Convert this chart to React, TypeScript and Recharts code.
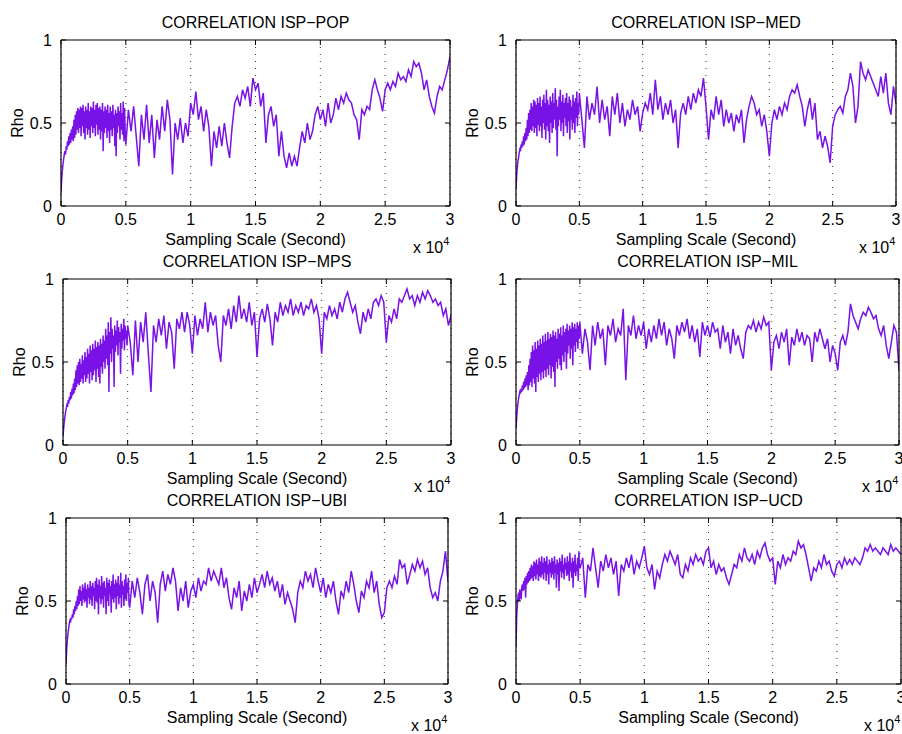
import React from "react";
import { LineChart, Line, XAxis, YAxis, CartesianGrid } from "recharts";

// the first 0.5 (x10^4 s) is sampled every 0.005, the rest every 0.02
const HEAD_STEP = 0.005;
const TAIL_START = 0.5;
const TAIL_STEP = 0.02;
const xTicks = [0, 0.5, 1, 1.5, 2, 2.5, 3];
const yTicks = [0, 0.5, 1];

const popHead = [
  0.08, 0.16, 0.21, 0.25, 0.28, 0.31, 0.33, 0.31, 0.36, 0.34,
  0.39, 0.36, 0.42, 0.37, 0.44, 0.38, 0.46, 0.4, 0.48, 0.39,
  0.52, 0.41, 0.55, 0.43, 0.57, 0.46, 0.59, 0.44, 0.58, 0.47,
  0.6, 0.42, 0.59, 0.48, 0.61, 0.44, 0.57, 0.4, 0.6, 0.47,
  0.58, 0.43, 0.62, 0.46, 0.57, 0.41, 0.6, 0.48, 0.59, 0.44,
  0.63, 0.47, 0.58, 0.42, 0.61, 0.49, 0.62, 0.43, 0.59, 0.46,
  0.6, 0.4, 0.58, 0.45, 0.62, 0.33, 0.57, 0.44, 0.6, 0.47,
  0.58, 0.41, 0.61, 0.45, 0.56, 0.38, 0.6, 0.46, 0.57, 0.42,
  0.61, 0.47, 0.55, 0.36, 0.58, 0.3, 0.56, 0.44, 0.6, 0.48,
  0.57, 0.4, 0.62, 0.46, 0.56, 0.43, 0.63, 0.39, 0.59, 0.45,
];
const popTail = [
  0.37, 0.58, 0.45, 0.6, 0.42,
  0.24, 0.55, 0.4, 0.61, 0.38, 0.55, 0.29, 0.52, 0.4, 0.6,
  0.45, 0.64, 0.52, 0.19, 0.5, 0.4, 0.53, 0.38, 0.5, 0.42,
  0.62, 0.55, 0.69, 0.52, 0.6, 0.45, 0.58, 0.48, 0.24, 0.45,
  0.35, 0.48, 0.36, 0.5, 0.38, 0.29, 0.48, 0.62, 0.66, 0.6,
  0.7, 0.65, 0.72, 0.6, 0.77, 0.7, 0.74, 0.6, 0.68, 0.38,
  0.55, 0.6, 0.48, 0.55, 0.3, 0.45, 0.3, 0.23, 0.32, 0.24,
  0.3, 0.24, 0.35, 0.45, 0.38, 0.5, 0.4, 0.45, 0.55, 0.6,
  0.52, 0.58, 0.48, 0.62, 0.5, 0.55, 0.65, 0.58, 0.66, 0.62,
  0.68, 0.64, 0.62, 0.55, 0.52, 0.4, 0.58, 0.55, 0.6, 0.58,
  0.7, 0.76, 0.7, 0.65, 0.57, 0.7, 0.74, 0.7, 0.75, 0.72,
  0.8, 0.76, 0.78, 0.75, 0.82, 0.78, 0.87, 0.84, 0.86, 0.8,
  0.7, 0.76, 0.66, 0.6, 0.56, 0.66, 0.72, 0.7, 0.76, 0.82,
  0.9,
];

const medHead = [
  0.1, 0.18, 0.23, 0.27, 0.29, 0.32, 0.34, 0.33, 0.37, 0.35,
  0.39, 0.36, 0.42, 0.37, 0.44, 0.39, 0.47, 0.4, 0.52, 0.42,
  0.56, 0.44, 0.58, 0.46, 0.62, 0.45, 0.6, 0.48, 0.64, 0.44,
  0.63, 0.47, 0.61, 0.42, 0.65, 0.49, 0.62, 0.45, 0.66, 0.48,
  0.6, 0.41, 0.64, 0.5, 0.67, 0.46, 0.62, 0.4, 0.7, 0.48,
  0.64, 0.45, 0.61, 0.38, 0.66, 0.5, 0.63, 0.44, 0.68, 0.47,
  0.62, 0.52, 0.71, 0.46, 0.64, 0.3, 0.6, 0.48, 0.66, 0.52,
  0.7, 0.45, 0.63, 0.5, 0.67, 0.42, 0.62, 0.53, 0.65, 0.48,
  0.68, 0.44, 0.62, 0.51, 0.66, 0.4, 0.64, 0.52, 0.6, 0.46,
  0.67, 0.5, 0.63, 0.44, 0.65, 0.53, 0.69, 0.48, 0.62, 0.55,
];
const medTail = [
  0.68, 0.52, 0.35, 0.66, 0.52,
  0.62, 0.55, 0.72, 0.5, 0.64, 0.52, 0.6, 0.42, 0.66, 0.55,
  0.68, 0.5, 0.62, 0.48, 0.58, 0.52, 0.64, 0.55, 0.6, 0.45,
  0.56, 0.62, 0.58, 0.68, 0.55, 0.76, 0.58, 0.66, 0.52, 0.62,
  0.55, 0.64, 0.5, 0.58, 0.35, 0.56, 0.62, 0.55, 0.66, 0.58,
  0.68, 0.62, 0.7, 0.66, 0.77, 0.6, 0.4, 0.58, 0.52, 0.66,
  0.55, 0.64, 0.48, 0.58, 0.5, 0.56, 0.45, 0.55, 0.5, 0.58,
  0.38, 0.52, 0.6, 0.66, 0.62, 0.55, 0.58, 0.48, 0.55, 0.45,
  0.3, 0.5, 0.58, 0.52, 0.6, 0.55, 0.62, 0.58, 0.66, 0.7,
  0.68, 0.73, 0.66, 0.6, 0.48, 0.58, 0.65, 0.52, 0.62, 0.4,
  0.45, 0.35, 0.42, 0.36, 0.26, 0.48, 0.55, 0.58, 0.6, 0.56,
  0.66, 0.7, 0.8, 0.72, 0.5, 0.6, 0.87, 0.8, 0.76, 0.82,
  0.78, 0.74, 0.7, 0.66, 0.78, 0.68, 0.8, 0.62, 0.55, 0.72,
  0.62,
];

const mpsHead = [
  0.05, 0.1, 0.14, 0.17, 0.2, 0.22, 0.24, 0.23, 0.27, 0.25,
  0.29, 0.27, 0.32, 0.28, 0.34, 0.3, 0.37, 0.31, 0.4, 0.33,
  0.45, 0.35, 0.48, 0.37, 0.5, 0.36, 0.52, 0.38, 0.49, 0.4,
  0.54, 0.37, 0.51, 0.42, 0.56, 0.38, 0.53, 0.4, 0.58, 0.43,
  0.55, 0.37, 0.6, 0.44, 0.57, 0.39, 0.61, 0.42, 0.58, 0.45,
  0.63, 0.38, 0.59, 0.46, 0.62, 0.41, 0.6, 0.37, 0.64, 0.47,
  0.61, 0.43, 0.66, 0.5, 0.63, 0.46, 0.7, 0.52, 0.66, 0.48,
  0.74, 0.32, 0.68, 0.55, 0.77, 0.5, 0.7, 0.58, 0.66, 0.35,
  0.72, 0.56, 0.69, 0.6, 0.75, 0.54, 0.71, 0.62, 0.68, 0.43,
  0.73, 0.58, 0.7, 0.63, 0.76, 0.57, 0.72, 0.64, 0.69, 0.6,
];
const mpsTail = [
  0.72, 0.62, 0.42, 0.75, 0.5,
  0.74, 0.62, 0.8, 0.55, 0.32, 0.72, 0.62, 0.76, 0.66, 0.78,
  0.58, 0.74, 0.68, 0.46, 0.76, 0.7, 0.8, 0.68, 0.8, 0.72,
  0.55, 0.78, 0.66, 0.76, 0.7, 0.86, 0.68, 0.8, 0.72, 0.78,
  0.6, 0.5, 0.78, 0.72, 0.82, 0.7, 0.84, 0.74, 0.9, 0.76,
  0.82, 0.74, 0.86, 0.72, 0.8, 0.53, 0.76, 0.82, 0.74, 0.85,
  0.76, 0.6, 0.8, 0.74, 0.86, 0.78, 0.84, 0.8, 0.88, 0.78,
  0.84, 0.8, 0.86, 0.78, 0.84, 0.82, 0.88, 0.8, 0.84, 0.76,
  0.55, 0.8, 0.76, 0.84, 0.78, 0.82, 0.76, 0.86, 0.8, 0.88,
  0.92, 0.86, 0.8, 0.84, 0.74, 0.67, 0.8, 0.74, 0.82, 0.76,
  0.86, 0.88, 0.84, 0.9, 0.86, 0.62, 0.78, 0.74, 0.82, 0.76,
  0.88, 0.86, 0.9, 0.94, 0.88, 0.9, 0.84, 0.9, 0.86, 0.92,
  0.88, 0.93, 0.9, 0.86, 0.88, 0.84, 0.86, 0.78, 0.82, 0.72,
  0.78,
];

const milHead = [
  0.1, 0.16, 0.21, 0.25, 0.28, 0.3, 0.32, 0.31, 0.34, 0.32,
  0.36, 0.33, 0.38, 0.34, 0.4, 0.35, 0.42, 0.36, 0.44, 0.33,
  0.48, 0.36, 0.52, 0.38, 0.56, 0.35, 0.6, 0.4, 0.57, 0.37,
  0.62, 0.32, 0.58, 0.41, 0.63, 0.38, 0.6, 0.43, 0.64, 0.39,
  0.61, 0.44, 0.66, 0.4, 0.62, 0.45, 0.67, 0.41, 0.63, 0.46,
  0.68, 0.42, 0.64, 0.48, 0.67, 0.4, 0.65, 0.47, 0.69, 0.44,
  0.66, 0.35, 0.68, 0.5, 0.64, 0.46, 0.7, 0.52, 0.67, 0.48,
  0.71, 0.45, 0.66, 0.54, 0.72, 0.5, 0.68, 0.56, 0.7, 0.46,
  0.73, 0.55, 0.69, 0.6, 0.72, 0.52, 0.7, 0.58, 0.74, 0.48,
  0.71, 0.6, 0.73, 0.56, 0.7, 0.62, 0.74, 0.58, 0.72, 0.64,
];
const milTail = [
  0.74, 0.55, 0.7, 0.62, 0.45,
  0.72, 0.6, 0.74, 0.64, 0.7, 0.48, 0.72, 0.66, 0.76, 0.62,
  0.7, 0.66, 0.82, 0.39, 0.72, 0.66, 0.78, 0.64, 0.72, 0.66,
  0.74, 0.58, 0.7, 0.62, 0.72, 0.64, 0.76, 0.66, 0.74, 0.6,
  0.7, 0.64, 0.52, 0.72, 0.66, 0.74, 0.68, 0.76, 0.64, 0.72,
  0.62, 0.7, 0.53, 0.74, 0.66, 0.72, 0.65, 0.74, 0.68, 0.7,
  0.58, 0.72, 0.62, 0.68, 0.55, 0.7, 0.6, 0.66, 0.58, 0.52,
  0.68, 0.72, 0.7, 0.75, 0.68, 0.74, 0.7, 0.77, 0.72, 0.74,
  0.45, 0.62, 0.66, 0.58, 0.68, 0.62, 0.7, 0.48, 0.65, 0.6,
  0.7, 0.62, 0.68, 0.6, 0.66, 0.64, 0.5, 0.68, 0.62, 0.7,
  0.64, 0.58, 0.64, 0.5, 0.6, 0.55, 0.45, 0.62, 0.66, 0.6,
  0.68, 0.85, 0.78, 0.74, 0.7, 0.76, 0.8, 0.78, 0.83, 0.8,
  0.76, 0.78, 0.7, 0.66, 0.72, 0.6, 0.52, 0.62, 0.72, 0.68,
  0.45,
];

const ubiHead = [
  0.12, 0.2, 0.26, 0.3, 0.33, 0.36, 0.38, 0.37, 0.4, 0.39,
  0.42, 0.4, 0.45, 0.42, 0.47, 0.44, 0.5, 0.45, 0.53, 0.47,
  0.57, 0.48, 0.59, 0.5, 0.56, 0.47, 0.6, 0.51, 0.58, 0.49,
  0.61, 0.5, 0.57, 0.46, 0.6, 0.52, 0.58, 0.48, 0.62, 0.51,
  0.59, 0.47, 0.61, 0.53, 0.58, 0.45, 0.62, 0.5, 0.64, 0.49,
  0.6, 0.42, 0.63, 0.52, 0.59, 0.48, 0.65, 0.51, 0.61, 0.46,
  0.62, 0.53, 0.58, 0.42, 0.64, 0.5, 0.61, 0.47, 0.63, 0.54,
  0.59, 0.43, 0.62, 0.51, 0.66, 0.49, 0.6, 0.52, 0.63, 0.45,
  0.61, 0.53, 0.65, 0.48, 0.6, 0.52, 0.67, 0.46, 0.62, 0.54,
  0.59, 0.47, 0.63, 0.51, 0.66, 0.5, 0.61, 0.55, 0.64, 0.48,
];
const ubiTail = [
  0.46, 0.62, 0.52, 0.64, 0.55,
  0.42, 0.6, 0.66, 0.5, 0.62, 0.55, 0.37, 0.6, 0.68, 0.56,
  0.66, 0.6, 0.7, 0.62, 0.44, 0.58, 0.5, 0.62, 0.46, 0.56,
  0.6, 0.52, 0.64, 0.56, 0.62, 0.6, 0.7, 0.62, 0.68, 0.64,
  0.6, 0.7, 0.58, 0.64, 0.52, 0.45, 0.58, 0.52, 0.62, 0.44,
  0.56, 0.5, 0.6, 0.52, 0.64, 0.55, 0.6, 0.66, 0.58, 0.68,
  0.6, 0.64, 0.56, 0.62, 0.52, 0.6, 0.48, 0.55, 0.5, 0.45,
  0.37, 0.55, 0.62, 0.58, 0.68, 0.62, 0.66, 0.58, 0.7, 0.62,
  0.55, 0.64, 0.52, 0.6, 0.55, 0.62, 0.5, 0.42, 0.56, 0.52,
  0.62, 0.55, 0.68, 0.6, 0.5, 0.43, 0.56, 0.52, 0.62, 0.58,
  0.68, 0.55, 0.62, 0.48, 0.4, 0.43, 0.58, 0.62, 0.58, 0.65,
  0.6, 0.75, 0.7, 0.72, 0.6, 0.66, 0.72, 0.68, 0.75, 0.7,
  0.74, 0.66, 0.7, 0.58, 0.52, 0.55, 0.5, 0.62, 0.68, 0.8,
  0.62,
];

const ucdHead = [
  0.22, 0.4, 0.47, 0.52, 0.55, 0.5, 0.57, 0.54, 0.51, 0.58,
  0.6, 0.56, 0.62, 0.57, 0.64, 0.52, 0.65, 0.6, 0.67, 0.61,
  0.68, 0.62, 0.7, 0.63, 0.72, 0.64, 0.71, 0.62, 0.74, 0.65,
  0.73, 0.63, 0.75, 0.66, 0.72, 0.62, 0.76, 0.65, 0.74, 0.64,
  0.77, 0.66, 0.73, 0.63, 0.76, 0.67, 0.74, 0.62, 0.77, 0.66,
  0.72, 0.6, 0.75, 0.67, 0.73, 0.64, 0.76, 0.66, 0.74, 0.63,
  0.77, 0.67, 0.72, 0.58, 0.75, 0.66, 0.73, 0.56, 0.76, 0.68,
  0.74, 0.64, 0.78, 0.67, 0.72, 0.63, 0.76, 0.69, 0.73, 0.65,
  0.77, 0.66, 0.74, 0.62, 0.79, 0.68, 0.73, 0.64, 0.76, 0.58,
  0.74, 0.67, 0.78, 0.65, 0.72, 0.68, 0.76, 0.62, 0.8, 0.7,
];
const ucdTail = [
  0.7, 0.76, 0.52, 0.72, 0.68,
  0.82, 0.7, 0.58, 0.74, 0.68, 0.78, 0.7, 0.76, 0.66, 0.74,
  0.53, 0.72, 0.68, 0.76, 0.7, 0.78, 0.66, 0.74, 0.7, 0.76,
  0.83, 0.7, 0.66, 0.72, 0.57, 0.68, 0.64, 0.72, 0.78, 0.74,
  0.8, 0.76, 0.72, 0.78, 0.66, 0.64, 0.72, 0.68, 0.76, 0.72,
  0.78, 0.74, 0.76, 0.72, 0.8, 0.82, 0.7, 0.74, 0.66, 0.72,
  0.68, 0.7, 0.64, 0.6, 0.66, 0.72, 0.7, 0.78, 0.74, 0.82,
  0.76, 0.74, 0.78, 0.72, 0.8, 0.76, 0.82, 0.85, 0.78, 0.74,
  0.76, 0.6, 0.74, 0.7, 0.78, 0.72, 0.76, 0.74, 0.8, 0.78,
  0.86, 0.82, 0.84, 0.78, 0.7, 0.62, 0.7, 0.68, 0.74, 0.7,
  0.78, 0.72, 0.74, 0.68, 0.65, 0.72, 0.74, 0.7, 0.76, 0.72,
  0.75, 0.72, 0.76, 0.74, 0.72, 0.76, 0.82, 0.8, 0.84, 0.8,
  0.82, 0.8, 0.78, 0.82, 0.8, 0.78, 0.84, 0.8, 0.82, 0.8,
  0.78,
];

const PAGE_W = 902;
const PAGE_H = 734;
const FONT = "'Liberation Sans', Arial, Helvetica, sans-serif";
const PURPLE = "#7812e6";

type Box = { left: number; right: number; top: number; bottom: number };
type Panel = { title: string; head: number[]; tail: number[]; box: Box };

const panels: Panel[] = [
  { title: "CORRELATION ISP\u2212POP", head: popHead, tail: popTail, box: { left: 61, right: 450, top: 40, bottom: 206 } },
  { title: "CORRELATION ISP\u2212MED", head: medHead, tail: medTail, box: { left: 516, right: 896, top: 40, bottom: 206 } },
  { title: "CORRELATION ISP\u2212MPS", head: mpsHead, tail: mpsTail, box: { left: 63, right: 451, top: 279, bottom: 445 } },
  { title: "CORRELATION ISP\u2212MIL", head: milHead, tail: milTail, box: { left: 516, right: 899, top: 279, bottom: 445 } },
  { title: "CORRELATION ISP\u2212UBI", head: ubiHead, tail: ubiTail, box: { left: 66, right: 448, top: 518, bottom: 684 } },
  { title: "CORRELATION ISP\u2212UCD", head: ucdHead, tail: ucdTail, box: { left: 516, right: 901, top: 518, bottom: 684 } },
];

const TICK = 5;

// matlab style: ticks point into the box, labels sit outside
const BottomTick = (props: any) => {
  const { x, y, payload } = props;
  return (
    <g>
      <line x1={x} y1={y} x2={x} y2={y - TICK} stroke="#000" />
      <text x={x} y={y + 19} textAnchor="middle" fontSize={16} fontFamily={FONT} fill="#000">
        {String(payload.value)}
      </text>
    </g>
  );
};

const TopTick = (props: any) => {
  const { x, y } = props;
  return <line x1={x} y1={y} x2={x} y2={y + TICK} stroke="#000" />;
};

const LeftTick = (props: any) => {
  const { x, y, payload } = props;
  return (
    <g>
      <line x1={x} y1={y} x2={x + TICK} y2={y} stroke="#000" />
      <text x={x - 9} y={y + 6} textAnchor="end" fontSize={16} fontFamily={FONT} fill="#000">
        {String(payload.value)}
      </text>
    </g>
  );
};

const RightTick = (props: any) => {
  const { x, y } = props;
  return <line x1={x} y1={y} x2={x - TICK} y2={y} stroke="#000" />;
};

const axisLine = { stroke: "#000", strokeWidth: 1.2 };

function CorrelationPanel({ head, tail, box }: Panel) {
  const data = [
    ...head.map((rho, i) => ({ x: i * HEAD_STEP, rho })),
    ...tail.map((rho, i) => ({ x: TAIL_START + i * TAIL_STEP, rho })),
  ];
  // axes are 1px thick bands so the plot rectangle lands exactly on the box
  return (
    <div style={{ position: "absolute", left: 0, top: 0 }}>
      <LineChart
        width={PAGE_W}
        height={PAGE_H}
        data={data}
        margin={{
          top: box.top - 1,
          left: box.left - 1,
          right: PAGE_W - box.right - 1,
          bottom: PAGE_H - box.bottom - 1,
        }}
      >
        <CartesianGrid horizontal={false} stroke="#333" strokeDasharray="1 6" />
        <XAxis
          dataKey="x"
          type="number"
          domain={[0, 3]}
          allowDataOverflow
          ticks={xTicks}
          height={1}
          tickSize={0}
          tickMargin={0}
          tickLine={false}
          tick={BottomTick}
          axisLine={axisLine}
          interval={0}
        />
        <XAxis
          xAxisId="top"
          orientation="top"
          dataKey="x"
          type="number"
          domain={[0, 3]}
          allowDataOverflow
          ticks={xTicks}
          height={1}
          tickSize={0}
          tickMargin={0}
          tickLine={false}
          tick={TopTick}
          axisLine={axisLine}
          interval={0}
        />
        <YAxis
          type="number"
          domain={[0, 1]}
          allowDataOverflow
          ticks={yTicks}
          width={1}
          tickSize={0}
          tickMargin={0}
          tickLine={false}
          tick={LeftTick}
          axisLine={axisLine}
          interval={0}
        />
        <YAxis
          yAxisId="right"
          orientation="right"
          type="number"
          domain={[0, 1]}
          allowDataOverflow
          ticks={yTicks}
          width={1}
          tickSize={0}
          tickMargin={0}
          tickLine={false}
          tick={RightTick}
          axisLine={axisLine}
          interval={0}
        />
        <Line
          type="linear"
          dataKey="rho"
          stroke={PURPLE}
          strokeWidth={1.5}
          dot={false}
          isAnimationActive={false}
        />
      </LineChart>
    </div>
  );
}

function Labels() {
  return (
    <svg
      width={PAGE_W}
      height={PAGE_H}
      style={{ position: "absolute", left: 0, top: 0, pointerEvents: "none" }}
      fontFamily={FONT}
      fontSize={16}
      fill="#000"
    >
      {panels.map((p) => {
        const cx = (p.box.left + p.box.right) / 2;
        const cy = (p.box.top + p.box.bottom) / 2;
        return (
          <g key={p.title}>
            <text x={cx} y={p.box.top - 12} textAnchor="middle">
              {p.title}
            </text>
            <text x={cx} y={p.box.bottom + 39} textAnchor="middle">
              Sampling Scale (Second)
            </text>
            <text
              x={p.box.left - 38}
              y={cy}
              textAnchor="middle"
              transform={`rotate(-90 ${p.box.left - 38} ${cy})`}
            >
              Rho
            </text>
            <text x={p.box.right - 37} y={p.box.bottom + 47}>
              x 10
              <tspan dy={-8} fontSize={11}>
                4
              </tspan>
            </text>
          </g>
        );
      })}
    </svg>
  );
}

export default function App() {
  return (
    <div
      style={{
        position: "absolute",
        left: 0,
        top: 0,
        width: PAGE_W,
        height: PAGE_H,
        background: "#fff",
        overflow: "hidden",
      }}
    >
      {panels.map((p) => (
        <CorrelationPanel key={p.title} {...p} />
      ))}
      <Labels />
    </div>
  );
}
